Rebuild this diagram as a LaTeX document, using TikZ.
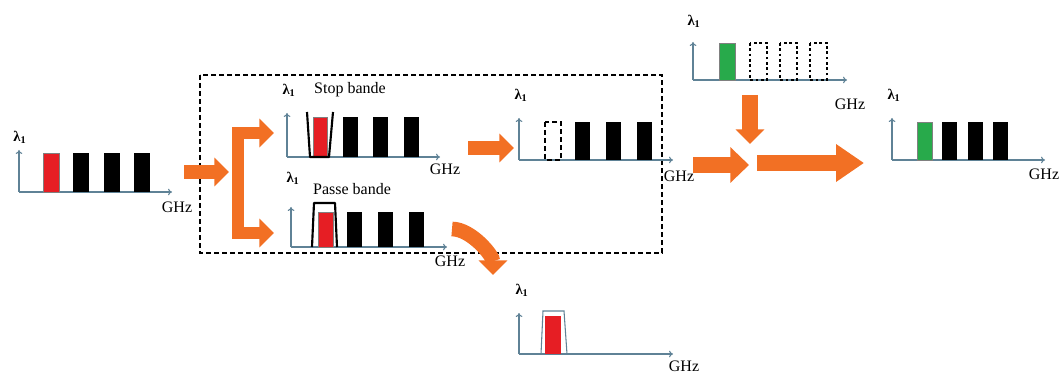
\documentclass[tikz,border=0pt]{standalone}
\usepackage{fontspec}
\setmainfont{Liberation Serif}
\usetikzlibrary{arrows.meta}

\definecolor{axisblue}{RGB}{95,130,150}
\definecolor{pumporange}{RGB}{242,112,36}
\definecolor{chanred}{RGB}{230,30,36}
\definecolor{changreen}{RGB}{40,170,75}

\tikzset{
  axis/.style={axisblue,line width=0.8pt,-{To[length=3pt,width=5pt]}},
  lbl/.style={font=\fontsize{12}{14}\selectfont,inner sep=0pt},
  lam/.style={font=\fontsize{11}{13}\selectfont\bfseries,inner sep=0pt},
  bigarrow/.style={pumporange,line width=10pt,-{Triangle[width=21pt,length=11pt]}},
  filt/.style={line width=1.6pt,line join=round},
}

\begin{document}
\begin{tikzpicture}[x=0.75pt,y=-0.75pt]
\useasboundingbox (0,0) rectangle (1060,374);

% input comb
\draw[axis] (19,192)--(19,150);
\draw[axis] (19,192)--(172,192);
\node[lam] (lamIn) at (20,137) {λ\textsubscript{1}};
\node[lbl] (ghzIn) at (177,207) {GHz};
\fill[chanred,draw=black!50,line width=0.4pt] (43,153) rectangle (59,192);
\foreach \x in {73,104,134} \fill (\x,153) rectangle +(16,39);

% dashed block
\draw[line width=1pt,dash pattern=on 4pt off 2pt] (200,75) rectangle (662,253);

% stop bande
\draw[axis] (287,157)--(287,113);
\draw[axis] (287,157)--(440,157);
\node[lam] (lamStop) at (289,90) {λ\textsubscript{1}};
\node[lbl] (txtStop) at (350,90) {Stop bande};
\node[lbl] (ghzStop) at (445,169) {GHz};
\fill[chanred,draw=black!50,line width=0.4pt] (313,117) rectangle (327,157);
\foreach \x in {343,373,404} \fill (\x,117) rectangle +(15,40);
\draw[filt] (307,112)--(310,157)--(329,157)--(333,112);

% passe bande
\draw[axis] (291,247)--(291,207);
\draw[axis] (291,247)--(447,247);
\node[lam] (lamPass) at (293,178) {λ\textsubscript{1}};
\node[lbl] (txtPass) at (352,189) {Passe bande};
\node[lbl] (ghzPass) at (450,261) {GHz};
\fill[chanred,draw=black!50,line width=0.4pt] (318,212) rectangle (333,247);
\foreach \x in {347,378,409} \fill (\x,212) rectangle +(15,35);
\draw[filt] (312,247)--(314,203)--(335,203)--(337,247);

% after stop
\draw[axis] (519,160)--(519,118);
\draw[axis] (519,160)--(673,160);
\node[lam] (lamRej) at (521,95) {λ\textsubscript{1}};
\node[lbl] (ghzRej) at (679,176) {GHz};
\draw[line width=1.6pt,dash pattern=on 4pt off 2pt] (545,122) rectangle (561,160);
\foreach \x in {575,606,637} \fill (\x,122) rectangle +(15,38);

% dropped channel
\draw[axis] (519,354)--(519,313);
\draw[axis] (519,354)--(673,354);
\node[lam] (lamDrop) at (522,290) {λ\textsubscript{1}};
\node[lbl] (ghzDrop) at (684,366) {GHz};
\fill[chanred] (545,316) rectangle (561,354);
\draw[axisblue,line width=0.8pt] (541,354)--(543,311)--(564,311)--(567,354);

% added channel
\draw[axis] (693,80)--(693,42);
\draw[axis] (693,80)--(847,80);
\node[lam] (lamAdd) at (694,21) {λ\textsubscript{1}};
\node[lbl] (ghzAdd) at (850,104) {GHz};
\fill[changreen,draw=black!50,line width=0.4pt] (719,43) rectangle (735,80);
\foreach \x in {750,780,810} \draw[line width=2pt,dash pattern=on 2pt off 2pt] (\x,43) rectangle +(17,37);

% output comb
\draw[axis] (892,160)--(892,118);
\draw[axis] (892,160)--(1045,160);
\node[lam] (lamOut) at (894,95) {λ\textsubscript{1}};
\node[lbl] (ghzOut) at (1044,174) {GHz};
\fill[changreen,draw=black!50,line width=0.4pt] (917,122) rectangle (932,160);
\foreach \x in {942,968,993} \fill (\x,122) rectangle +(15,38);

% orange arrows
\coordinate (inTail) at (184,172);
\coordinate (splitIn) at (229,172);
\coordinate (stopIn) at (274,133);
\coordinate (passIn) at (274,233);
\coordinate (splitTop) at (238,133);
\coordinate (splitBot) at (238,233);
\coordinate (stopTail) at (468,148);
\coordinate (rejIn) at (514,148);
\coordinate (passTail) at (452,229);
\coordinate (dropIn) at (493,275);
\coordinate (addTail) at (750,95);
\coordinate (addTip) at (750,144);
\coordinate (rejTail) at (693,165);
\coordinate (mixIn) at (749,165);
\coordinate (mixOut) at (757,163);
\coordinate (outIn) at (864,163);

\draw[bigarrow] (inTail)--(splitIn);
\draw[pumporange,line width=8.5pt,line join=miter,
  {Triangle[width=21pt,length=11pt]}-{Triangle[width=21pt,length=11pt]}]
  (stopIn)--(splitTop)--(splitBot)--(passIn);
\draw[bigarrow] (stopTail)--(rejIn);
\draw[bigarrow,line width=11pt] (passTail) to[out=0,in=90,looseness=0.8] (dropIn);
\draw[bigarrow,line width=12pt] (addTail)--(addTip);
\draw[bigarrow,line width=12pt,-{Triangle[width=26pt,length=14pt]}] (rejTail)--(mixIn);
\draw[bigarrow,line width=12pt,-{Triangle[width=27pt,length=21pt]}] (mixOut)--(outIn);
\end{tikzpicture}
\end{document}
